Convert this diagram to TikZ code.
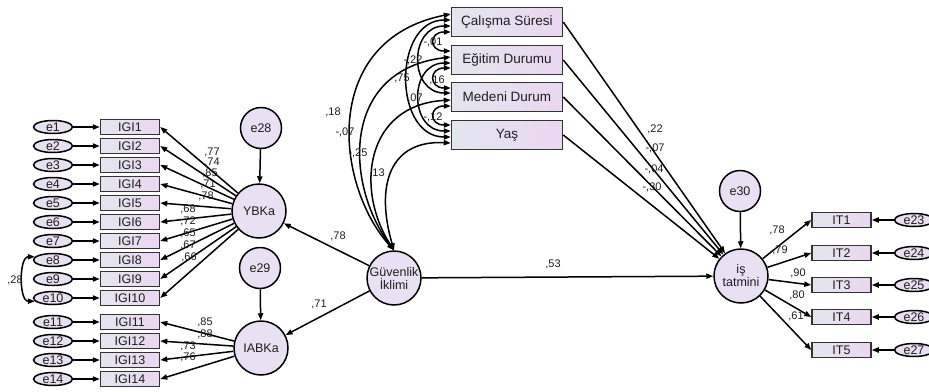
\documentclass[tikz,border=0pt]{standalone}
\usepackage{fontspec}
\setmainfont{Liberation Sans}
\usetikzlibrary{arrows.meta,shapes.geometric}
\definecolor{latfill}{HTML}{E9E0F3}
\definecolor{ellfill}{HTML}{E6E0F0}
\definecolor{boxL}{HTML}{E3E6EE}
\definecolor{boxR}{HTML}{EBD6F1}
\definecolor{txt}{HTML}{1E1E1E}
\begin{document}
\begin{tikzpicture}[x=1pt,y=-1pt,
  line width=1.5pt,
  tip/.style={-{Triangle[length=7pt,width=5.2pt]}},
  cov/.style={{Triangle[length=7pt,width=5.2pt]}-{Triangle[length=7pt,width=5.2pt]}},
  errell/.style={ellipse,draw=black,fill=ellfill,minimum width=39,minimum height=13,inner sep=0pt,
    text height=9pt,text depth=0pt,font=\fontsize{12.5}{12.5}\selectfont,text=txt},
  obsbox/.style={rectangle,draw=black!80,left color=boxL,right color=boxR,minimum width=59,minimum height=15,
    inner sep=0pt,text height=9pt,text depth=0pt,font=\fontsize{12.5}{12.5}\selectfont,text=txt},
  topbox/.style={rectangle,draw=black!80,left color=boxL,right color=boxR,minimum width=111,minimum height=29,
    inner sep=0pt,font=\fontsize{13.5}{13.5}\selectfont,text=txt},
  lat/.style={circle,draw=black,fill=latfill,minimum size=54,inner sep=0pt,align=center,
    font=\fontsize{12.5}{13}\selectfont,text=txt},
  err/.style={circle,draw=black,fill=latfill,minimum size=41,inner sep=0pt,
    font=\fontsize{12.5}{12.5}\selectfont,text=txt},
  lbl/.style={inner sep=0pt,font=\fontsize{11}{11}\selectfont,text=txt}]
\useasboundingbox[fill=white] (0,0) rectangle (929,391);

% left indicators
\foreach \i/\y in {1/127,2/146,3/165,4/184,5/203,6/222,7/241,8/260,9/279,10/298,11/322,12/341,13/360,14/379}{
  \node[errell] (e\i) at (53,\y) {e\i};
  \node[obsbox] (g\i) at (130,\y) {IGI\i};
  \draw[tip] (e\i) -- (g\i);
}
\draw[cov] (e8.170) .. controls +(-16,0) and +(-16,0) .. (e10.190);
\node[lbl] at (15,280) {,28};

% latent variables
\node[lat] (yb) at (259,211) {YBKa};
\node[err] (e28) at (261,128) {e28};
\node[err] (e29) at (260,268) {e29};
\node[lat] (ia) at (261,348) {IABKa};
\node[lat] (gi) at (394,278) {Güvenlik\\İklimi};
\node[lat] (is) at (741,276) {iş\\tatmini};
\node[err] (e30) at (740,191) {e30};

\draw[tip] (e28) -- (yb);
\draw[tip] (e29) -- (ia);
\draw[tip] (e30) -- (is);

\foreach \i in {1,...,10}{ \draw[tip] (yb) -- (g\i.east); }
\foreach \i in {11,...,14}{ \draw[tip] (ia) -- (g\i.east); }

\node[lbl] at (212,152) {,77};
\node[lbl] at (212,162) {,74};
\node[lbl] at (210,173) {,85};
\node[lbl] at (208,184) {,71};
\node[lbl] at (206,196) {,78};
\node[lbl] at (188,209) {,68};
\node[lbl] at (188,221) {,72};
\node[lbl] at (188,233) {,65};
\node[lbl] at (188,245) {,67};
\node[lbl] at (189,257) {,66};
\node[lbl] at (205,322) {,85};
\node[lbl] at (205,334) {,88};
\node[lbl] at (188,346) {,73};
\node[lbl] at (188,357) {,76};

\draw[tip] (gi) -- (yb);
\draw[tip] (gi) -- (ia);
\draw[tip] (gi) -- (is);
\node[lbl] at (338,236) {,78};
\node[lbl] at (319,304) {,71};
\node[lbl] at (553,264) {,53};

% top observed variables
\node[topbox] (cs) at (507,22) {Çalışma Süresi};
\node[topbox] (ed) at (507,60) {Eğitim Durumu};
\node[topbox] (md) at (507,97) {Medeni Durum};
\node[topbox] (ya) at (507,135) {Yaş};

\draw[cov] (gi.north) .. controls (335,185) and (320,40) .. ([yshift=8pt]cs.west);
\draw[cov] (gi.north) .. controls (345,185) and (340,70) .. ([yshift=3pt]ed.west);
\draw[cov] (gi.north) .. controls (355,190) and (365,105) .. ([yshift=-3pt]md.west);
\draw[cov] (gi.north) .. controls (375,185) and (390,140) .. ([yshift=-8pt]ya.west);

\draw[cov] ([yshift=-10pt]cs.west) .. controls +(-22,0) and +(-22,0) .. ([yshift=9pt]ed.west);
\draw[cov] ([yshift=-4pt]cs.west) .. controls +(-42,0) and +(-42,0) .. ([yshift=4pt]md.west);
\draw[cov] ([yshift=2pt]cs.west) .. controls +(-58,0) and +(-58,0) .. ([yshift=-2pt]ya.west);
\draw[cov] ([yshift=-8pt]ed.west) .. controls +(-22,0) and +(-22,0) .. ([yshift=9pt]md.west);
\draw[cov] ([yshift=-3pt]ed.west) .. controls +(-42,0) and +(-42,0) .. ([yshift=4pt]ya.west);
\draw[cov] ([yshift=-9pt]md.west) .. controls +(-22,0) and +(-22,0) .. ([yshift=10pt]ya.west);

\node[lbl] at (333,112) {,18};
\node[lbl] at (345,132) {-,07};
\node[lbl] at (358,153) {-,25};
\node[lbl] at (377,173) {,13};
\node[lbl] at (433,42) {-,01};
\node[lbl] at (413,60) {-,22};
\node[lbl] at (402,78) {,75};
\node[lbl] at (437,80) {,16};
\node[lbl] at (415,98) {,07};
\node[lbl] at (433,117) {-,12};

\draw[tip] (cs.east) -- (is);
\draw[tip] (ed.east) -- (is);
\draw[tip] (md.east) -- (is);
\draw[tip] (ya.east) -- (is);
\node[lbl] at (655,129) {,22};
\node[lbl] at (655,148) {-,07};
\node[lbl] at (654,169) {-,04};
\node[lbl] at (652,187) {-,30};

% right indicators
\foreach \i/\n/\y in {1/23/220,2/24/253,3/25/285,4/26/317,5/27/350}{
  \node[obsbox] (t\i) at (841.5,\y) {IT\i};
  \node[errell] (e\n) at (914,\y) {e\n};
  \draw[tip] (e\n) -- (t\i);
  \draw[tip] (is) -- (t\i.west);
}
\node[lbl] at (777,230) {,78};
\node[lbl] at (780,250) {,79};
\node[lbl] at (798,273) {,90};
\node[lbl] at (797,295) {,80};
\node[lbl] at (796,316) {,61};
\end{tikzpicture}
\end{document}
